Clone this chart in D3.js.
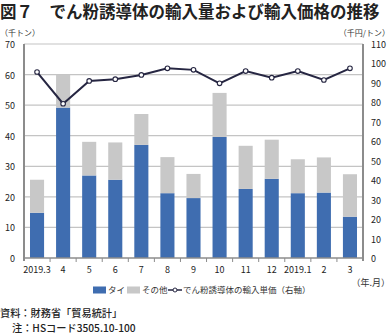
<!DOCTYPE html>
<html>
<head>
<meta charset="utf-8">
<script src="https://cdn.jsdelivr.net/npm/d3@7"></script>
<style>
  html, body { margin: 0; padding: 0; background: #fff; }
  svg { display: block; font-family: "Noto Sans CJK JP", "Noto Sans", sans-serif; }
</style>
</head>
<body>
<svg id="chart" width="390" height="335"></svg>
<script>
// Monthly import volume (thousand t) and unit price (thousand yen / t)
const months = ["2019.3", "4", "5", "6", "7", "8", "9", "10", "11", "12", "2019.1", "2", "3"];
const thai   = [14.8, 49.2, 27.0, 25.6, 37.0, 21.2, 19.6, 39.6, 22.6, 25.9, 21.2, 21.4, 13.5];
const total  = [25.6, 60.0, 38.0, 37.8, 47.1, 33.0, 27.5, 54.0, 36.7, 38.7, 32.3, 32.9, 27.4];
const other  = total.map((t, i) => +(t - thai[i]).toFixed(1));
const price  = [95.6, 79.3, 91.0, 91.9, 94.1, 97.5, 96.7, 89.8, 96.1, 92.7, 96.1, 91.5, 97.5];
const leftTicks  = [0, 10, 20, 30, 40, 50, 60, 70];
const rightTicks = [0, 10, 20, 30, 40, 50, 60, 70, 80, 90, 100, 110];

const svg = d3.select("#chart");
const m = { left: 24, right: 363, top: 44, bottom: 258 };

const x = d3.scaleBand().domain(months).range([m.left, m.right])
  .paddingInner(0.46).paddingOuter(0.23);
const yL = d3.scaleLinear().domain([0, 70]).range([m.bottom, m.top]);
const yR = d3.scaleLinear().domain([0, 110]).range([m.bottom, m.top]);

const BLUE = "#3f6db0", GREY = "#c8c8c8", LINE = "#262642", AXIS = "#8c8c8c";

// title
svg.append("text").attr("x", 0).attr("y", 17.5)
  .attr("font-size", 16.5).attr("font-weight", 700).attr("fill", "#222")
  .text("図７　でん粉誘導体の輸入量および輸入価格の推移");

// unit labels
svg.append("text").attr("x", 0).attr("y", 35.5).attr("font-size", 8).attr("fill", "#333").text("（千トン）");
svg.append("text").attr("x", 390).attr("y", 35.5).attr("text-anchor", "end").attr("font-size", 8).attr("fill", "#333").text("（千円/トン）");

// gridlines
svg.append("g").selectAll("line").data(leftTicks.filter(d => d > 0)).join("line")
  .attr("x1", m.left).attr("x2", m.right)
  .attr("y1", d => yL(d)).attr("y2", d => yL(d))
  .attr("stroke", "#c4c4c4").attr("stroke-width", 1.2);

// stacked bars
const bars = svg.append("g");
bars.selectAll("rect.thai").data(months).join("rect")
  .attr("x", d => x(d)).attr("width", x.bandwidth())
  .attr("y", (d, i) => yL(thai[i])).attr("height", (d, i) => yL(0) - yL(thai[i]))
  .attr("fill", BLUE);
bars.selectAll("rect.other").data(months).join("rect")
  .attr("x", d => x(d)).attr("width", x.bandwidth())
  .attr("y", (d, i) => yL(thai[i] + other[i])).attr("height", (d, i) => yL(thai[i]) - yL(thai[i] + other[i]))
  .attr("fill", GREY);

// axes lines
svg.append("line").attr("x1", m.left).attr("x2", m.left).attr("y1", m.top).attr("y2", m.bottom + 3)
  .attr("stroke", AXIS).attr("stroke-width", 2);
svg.append("line").attr("x1", m.right).attr("x2", m.right).attr("y1", m.top).attr("y2", m.bottom + 3)
  .attr("stroke", AXIS).attr("stroke-width", 2);
svg.append("line").attr("x1", m.left).attr("x2", m.right).attr("y1", m.bottom).attr("y2", m.bottom)
  .attr("stroke", AXIS).attr("stroke-width", 1.3);

// category tick marks between bands
const step = x.step();
svg.append("g").selectAll("line").data(months.slice(1)).join("line")
  .attr("x1", d => x(d) - x.paddingInner() * step / 2).attr("x2", d => x(d) - x.paddingInner() * step / 2)
  .attr("y1", m.bottom).attr("y2", m.bottom + 4)
  .attr("stroke", AXIS).attr("stroke-width", 1);

// left tick labels
svg.append("g").selectAll("text").data(leftTicks).join("text")
  .attr("x", 15).attr("y", d => yL(d) + 4).attr("text-anchor", "end")
  .attr("font-size", 9).attr("fill", "#222").text(d => d);

// right tick labels
svg.append("g").selectAll("text").data(rightTicks).join("text")
  .attr("x", 371).attr("y", d => yR(d) + 4).attr("text-anchor", "start")
  .attr("font-size", 9).attr("fill", "#222").text(d => d);

// category labels
svg.append("g").selectAll("text").data(months).join("text")
  .attr("x", d => x(d) + x.bandwidth() / 2).attr("y", 272.5).attr("text-anchor", "middle")
  .attr("font-size", 9).attr("fill", "#222").text(d => d);
svg.append("text").attr("x", 390).attr("y", 286).attr("text-anchor", "end")
  .attr("font-size", 9).attr("fill", "#333").text("（年.月）");

// unit price line (right axis)
const line = d3.line().x((d, i) => x(months[i]) + x.bandwidth() / 2).y(d => yR(d));
svg.append("path").datum(price).attr("d", line)
  .attr("fill", "none").attr("stroke", LINE).attr("stroke-width", 2);
svg.append("g").selectAll("circle").data(price).join("circle")
  .attr("cx", (d, i) => x(months[i]) + x.bandwidth() / 2).attr("cy", d => yR(d)).attr("r", 2.3)
  .attr("fill", "#fff").attr("stroke", LINE).attr("stroke-width", 1.1);

// legend
const lg = svg.append("g");
const ly = 290;
lg.append("rect").attr("x", 93).attr("y", ly - 3.5).attr("width", 13).attr("height", 7).attr("fill", BLUE);
lg.append("text").attr("x", 108).attr("y", ly + 3.2).attr("font-size", 8.5).attr("fill", "#333").text("タイ");
lg.append("rect").attr("x", 127).attr("y", ly - 3.5).attr("width", 13).attr("height", 7).attr("fill", GREY);
lg.append("text").attr("x", 142).attr("y", ly + 3.2).attr("font-size", 8.5).attr("fill", "#333").text("その他");
lg.append("line").attr("x1", 168).attr("x2", 182).attr("y1", ly).attr("y2", ly).attr("stroke", LINE).attr("stroke-width", 1.5);
lg.append("circle").attr("cx", 175).attr("cy", ly).attr("r", 2).attr("fill", "#fff").attr("stroke", LINE).attr("stroke-width", 1);
lg.append("text").attr("x", 183).attr("y", ly + 3.2).attr("font-size", 8.5).attr("fill", "#333").text("でん粉誘導体の輸入単価（右軸）");

// source notes
svg.append("text").attr("x", 0).attr("y", 317).attr("font-size", 10.2).attr("font-weight", 500).attr("fill", "#222")
  .text("資料：財務省「貿易統計」");
svg.append("text").attr("x", 12).attr("y", 332).attr("font-size", 10.2).attr("font-weight", 500).attr("fill", "#222")
  .text("注：HSコード3505.10-100");
</script>
</body>
</html>
